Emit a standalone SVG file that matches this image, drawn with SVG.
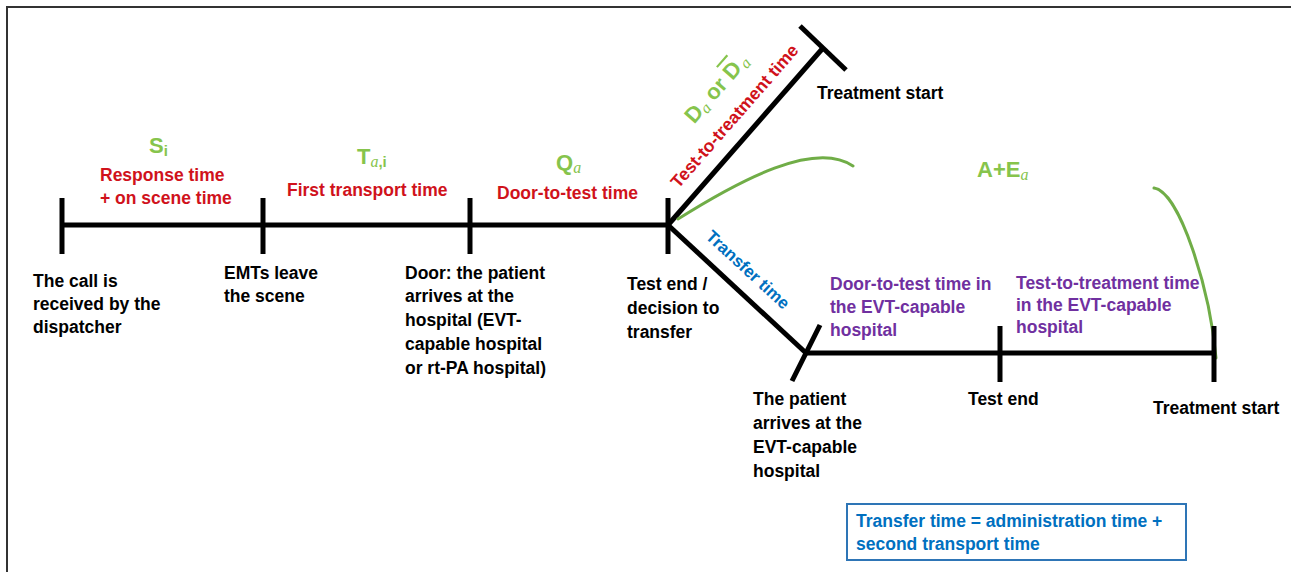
<svg xmlns="http://www.w3.org/2000/svg" width="1291" height="572" viewBox="0 0 1291 572">
<style>
.ln{stroke:#000;stroke-width:5;fill:none;stroke-linecap:butt}
.cv{stroke:#70ad47;stroke-width:3;fill:none;stroke-linecap:round}
text{font-family:"Liberation Sans",Arial,sans-serif;font-weight:bold;font-size:17.5px}
.k{fill:#000}
.r{fill:#d0121b}
.p{fill:#7030a0}
.b{fill:#0070c0}
.g{fill:#86c44c;font-size:22px}
.sub{font-family:"Liberation Serif",serif;font-style:italic;font-weight:normal;font-size:16px}
.subs{font-size:15px}
</style>
<rect x="0" y="0" width="1291" height="572" fill="#fff"/>
<rect x="7" y="7" width="1320" height="600" fill="none" stroke="#333" stroke-width="2"/>
<g id="connectors">
<line class="ln" x1="62" y1="225" x2="668" y2="225"/>
<line class="ln" x1="668" y1="225" x2="823" y2="48"/>
<line class="ln" x1="668" y1="225" x2="806" y2="353"/>
<line class="ln" x1="806" y1="353" x2="1214" y2="353"/>
<path class="cv" d="M678,219 C740,180 815,140 853,166"/>
<path class="cv" d="M1154,188 C1180,192 1210,290 1216,358"/>
</g>
<g id="tick-call"><line class="ln" x1="62" y1="198" x2="62" y2="254"/>
<text class="k" x="33" y="287">The call is</text><text class="k" x="33" y="310">received by the</text><text class="k" x="33" y="333">dispatcher</text></g>
<g id="tick-emts"><line class="ln" x1="263" y1="198" x2="263" y2="254"/>
<text class="k" x="224" y="279">EMTs leave</text><text class="k" x="224" y="302">the scene</text></g>
<g id="tick-door"><line class="ln" x1="470" y1="198" x2="470" y2="254"/>
<text class="k" x="405" y="279">Door: the patient</text><text class="k" x="405" y="302">arrives at the</text><text class="k" x="405" y="326">hospital (EVT-</text><text class="k" x="405" y="350">capable hospital</text><text class="k" x="405" y="374">or rt-PA hospital)</text></g>
<g id="tick-testend"><line class="ln" x1="668" y1="198" x2="668" y2="254"/>
<text class="k" x="627" y="290">Test end /</text><text class="k" x="627" y="314">decision to</text><text class="k" x="627" y="338">transfer</text></g>
<g id="tick-treat1"><line class="ln" x1="800" y1="26" x2="846" y2="70"/>
<text class="k" x="817" y="99">Treatment start</text></g>
<g id="tick-arrive"><line class="ln" x1="820" y1="325" x2="792" y2="381"/>
<text class="k" x="753" y="405">The patient</text><text class="k" x="753" y="429">arrives at the</text><text class="k" x="753" y="453">EVT-capable</text><text class="k" x="753" y="477">hospital</text></g>
<g id="tick-testend2"><line class="ln" x1="1000" y1="326" x2="1000" y2="382"/>
<text class="k" x="968" y="405">Test end</text></g>
<g id="tick-treat2"><line class="ln" x1="1214" y1="326" x2="1214" y2="382"/>
<text class="k" x="1153" y="414">Treatment start</text></g>
<g id="seg-S">
<text class="g" x="149" y="153">S<tspan class="subs" dy="3">i</tspan></text>
<text class="r" x="100" y="181">Response time</text><text class="r" x="100" y="204">+ on scene time</text></g>
<g id="seg-T">
<text class="g" x="357" y="164">T<tspan class="sub" dy="3">a</tspan><tspan class="subs">,i</tspan></text>
<text class="r" x="287" y="196">First transport time</text></g>
<g id="seg-Q">
<text class="g" x="556" y="170">Q<tspan class="sub" dy="3">a</tspan></text>
<text class="r" x="497" y="199">Door-to-test time</text></g>
<g id="seg-D">
<text class="g" text-anchor="middle" transform="translate(722,93) rotate(-48.8)">D<tspan class="sub" dy="3">a</tspan><tspan dy="-3"> or </tspan><tspan style="text-decoration:overline">D</tspan><tspan class="sub" dx="2" dy="3">a</tspan></text>
<text class="r" text-anchor="middle" transform="translate(739,120) rotate(-48.8)">Test-to-treatment time</text></g>
<g id="seg-transfer">
<text class="b" style="font-size:17px" text-anchor="middle" transform="translate(744,274) rotate(42.8)">Transfer time</text></g>
<g id="seg-AE">
<text class="g" x="977" y="177">A+E<tspan class="sub" dy="3">a</tspan></text></g>
<g id="seg-door2">
<text class="p" x="830" y="290">Door-to-test time in</text><text class="p" x="830" y="313">the EVT-capable</text><text class="p" x="830" y="336">hospital</text></g>
<g id="seg-test2">
<text class="p" x="1016" y="289">Test-to-treatment time</text><text class="p" x="1016" y="311">in the EVT-capable</text><text class="p" x="1016" y="333">hospital</text></g>
<g id="note">
<rect x="847" y="504" width="339" height="56" fill="#fff" stroke="#2e75b6" stroke-width="2"/>
<text class="b" x="856" y="527">Transfer time = administration time +</text>
<text class="b" x="856" y="550">second transport time</text></g>
</svg>
